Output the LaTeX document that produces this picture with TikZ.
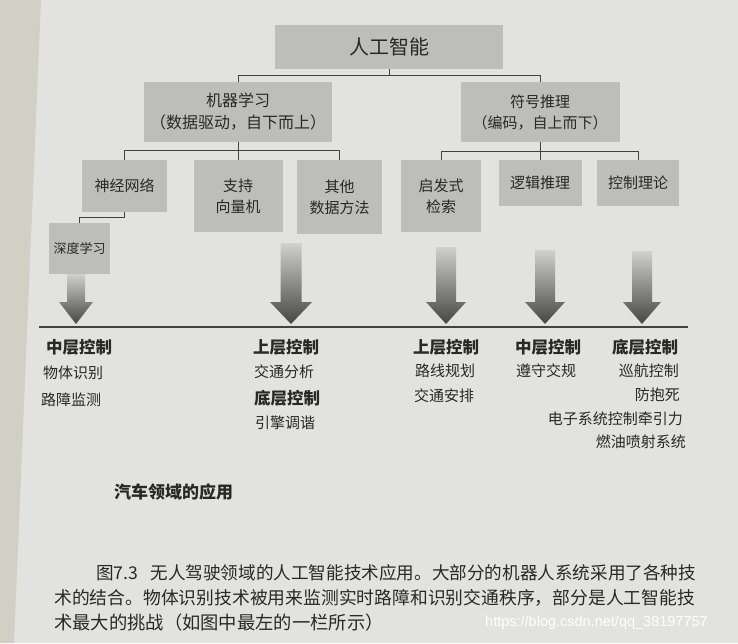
\documentclass[tikz,border=0pt]{standalone}
\usepackage{fontspec}
\setmainfont{Noto Sans CJK SC}
\newfontfamily\wmfont{Liberation Sans}
\definecolor{page}{RGB}{226,227,224}
\definecolor{strip}{RGB}{210,207,196}
\definecolor{boxc}{RGB}{189,190,187}
\definecolor{ink}{RGB}{40,40,40}
\definecolor{linec}{RGB}{66,66,66}
\definecolor{arrtop}{RGB}{208,208,206}
\definecolor{arrbot}{RGB}{70,70,70}
\newcommand\gradarrow[4]{%
  \shade[top color=arrtop, bottom color=arrbot]
    ({#1-#3},#2) -- ({#1+#3},#2) -- ({#1+#3},302) -- ({#1+#4},302) -- (#1,324)
    -- ({#1-#4},302) -- ({#1-#3},302) -- cycle;}
\begin{document}
\begin{tikzpicture}[x=1pt,y=-1pt,
  box/.style={fill=boxc, draw=none, text=ink, align=center, inner sep=0pt,
    font=\fontsize{15}{21}\selectfont},
  conn/.style={draw=linec, line width=0.9pt},
  lbl/.style={text=ink, inner sep=0pt, font=\fontsize{15}{18}\selectfont},
  hdr/.style={text=ink, inner sep=0pt, anchor=west, font=\fontsize{16.5}{20}\selectfont\bfseries},
  captext/.style={text=ink, inner sep=0pt, anchor=west},
]
\fill[page] (0,0) rectangle (738,643);
\fill[strip] (0,0) -- (41,0) -- (14,643) -- (0,643) -- cycle;
\useasboundingbox (0,0) rectangle (738,643);

% top level
\node[box, minimum width=228pt, minimum height=44pt, font=\fontsize{20}{24}\selectfont] (ai) at (389,47) {人工智能};
\node[box, minimum width=188pt, minimum height=60pt, font=\fontsize{16}{22}\selectfont] (ml) at (238,112) {机器学习\\（数据驱动，自下而上）};
\node[box, minimum width=159pt, minimum height=60pt] (sr) at (540,112) {符号推理\\（编码，自上而下）};

% second level
\node[box, minimum width=85pt, minimum height=52pt] (nn) at (124.5,186) {神经网络};
\node[box, minimum width=89pt, minimum height=72pt] (svm) at (238,196) {支持\\向量机};
\node[box, minimum width=85pt, minimum height=74pt] (oth) at (339.5,197) {其他\\数据方法};
\node[box, minimum width=80pt, minimum height=72pt] (heu) at (441,196) {启发式\\检索};
\node[box, minimum width=83pt, minimum height=46pt] (log) at (540,183) {逻辑推理};
\node[box, minimum width=82pt, minimum height=46pt] (ctl) at (638,183) {控制理论};
\node[box, minimum width=61pt, minimum height=51pt, font=\fontsize{13}{16}\selectfont] (dl) at (79.5,248.5) {深度学习};

% connectors
\path (ai.south) ++(0,6) coordinate (j1);
\draw[conn] (ai.south) -- (j1);
\draw[conn] (ml.north) |- (j1) -| (sr.north);
\path (ml.south) ++(0,8) coordinate (j2);
\draw[conn] (ml.south) -- (svm.north);
\draw[conn] (nn.north) |- (j2) -| (oth.north);
\path (sr.south) ++(0,9) coordinate (j3);
\draw[conn] (sr.south) -- (log.north);
\draw[conn] (heu.north) |- (j3) -| (ctl.north);
\draw[conn] (nn.south) -- ++(0,5) -| (dl.north);

% gradient arrows
\gradarrow{76}{274}{9}{17}
\gradarrow{291}{243}{10.5}{21}
\gradarrow{446}{247}{10}{20}
\gradarrow{545}{250}{10}{20}
\gradarrow{642}{251}{10}{19}

% baseline
\coordinate (bl) at (39,327);
\coordinate (br) at (688,327);
\draw[line width=1.2pt, linec] (bl) -- (br);

% column 1
\node[hdr] (h1) at (46,347) {中层控制};
\node[lbl, anchor=west] (t11) at (43,373) {物体识别};
\node[lbl, anchor=west] (t12) at (41,400) {路障监测};
% column 2
\node[hdr] (h2) at (253,347) {上层控制};
\node[lbl, anchor=west] (t21) at (254,372) {交通分析};
\node[hdr] (h2b) at (254,398) {底层控制};
\node[lbl, anchor=west] (t22) at (255,423) {引擎调谐};
% column 3
\node[hdr] (h3) at (413,347) {上层控制};
\node[lbl, anchor=west] (t31) at (415,371) {路线规划};
\node[lbl, anchor=west] (t32) at (414,396) {交通安排};
% column 4
\node[hdr] (h4) at (515,347) {中层控制};
\node[lbl, anchor=west] (t41) at (516,371) {遵守交规};
% column 5
\node[hdr] (h5) at (612,347) {底层控制};
\node[lbl, anchor=east] (t51) at (679,371) {巡航控制};
\node[lbl, anchor=east] (t52) at (680,395) {防抱死};
\node[lbl, anchor=east] (t53) at (683,419) {电子系统控制牵引力};
\node[lbl, anchor=east] (t54) at (686,442) {燃油喷射系统};

% title below
\node[captext, font=\fontsize{17}{20}\selectfont\bfseries] (sub) at (114,492) {汽车领域的应用};

% caption
\node[captext, font=\fontsize{17.6}{20}\selectfont] (c1) at (96,573) {图7.3\hspace{0.7em}无人驾驶领域的人工智能技术应用。大部分的机器人系统采用了各种技};
\node[captext, font=\fontsize{17.8}{22}\selectfont] (c2) at (54,598) {术的结合。物体识别技术被用来监测实时路障和识别交通秩序，部分是人工智能技};
\node[captext, font=\fontsize{18.3}{22}\selectfont] (c3) at (54,623) {术最大的挑战（如图中最左的一栏所示）};

% watermark
\node[anchor=west, inner sep=0pt, text=white, font=\wmfont\fontsize{14.5}{16}\selectfont] (wm) at (485,623) {https://blog.csdn.net/qq\_38197757};
\end{tikzpicture}
\end{document}
